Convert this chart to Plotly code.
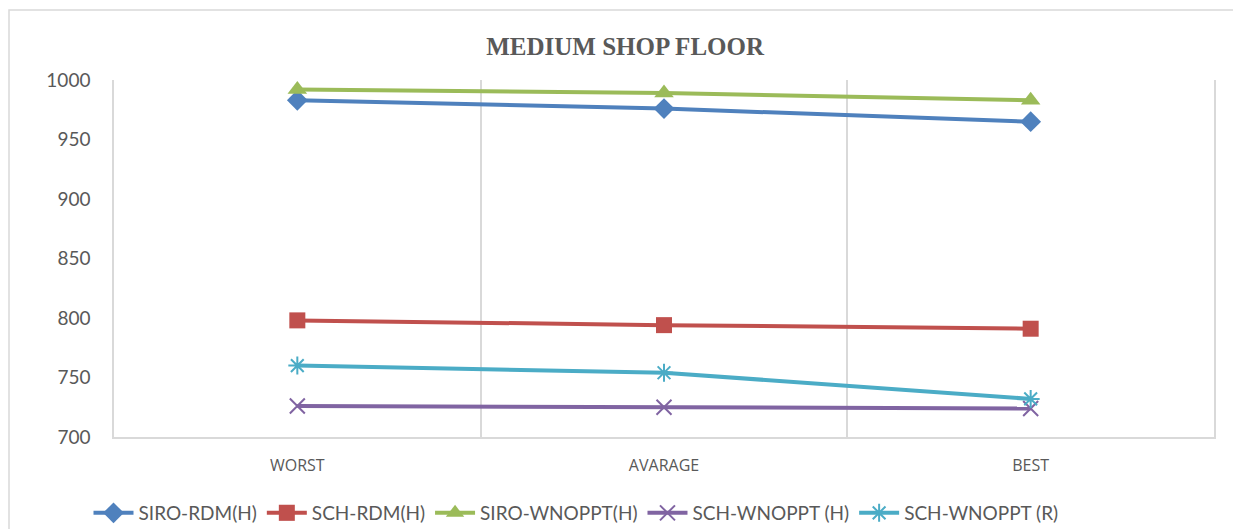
import plotly.graph_objects as go

categories = ["WORST", "AVARAGE", "BEST"]
siro_rdm_h = [983, 976, 965]
sch_rdm_h = [798, 794, 791]
siro_wnoppt_h = [992, 989, 983]
sch_wnoppt_h = [726, 725, 724]
sch_wnoppt_r = [760, 754, 732]

series = [
    ("SIRO-RDM(H)", siro_rdm_h, "#4F81BD", "diamond", 16, 0),
    ("SCH-RDM(H)", sch_rdm_h, "#C0504D", "square", 16, 0),
    ("SIRO-WNOPPT(H)", siro_wnoppt_h, "#9BBB59", "triangle-up", 17, 0),
    ("SCH-WNOPPT (H)", sch_wnoppt_h, "#8064A2", "x-thin-open", 15, 2),
    ("SCH-WNOPPT (R)", sch_wnoppt_r, "#4BACC6", "asterisk-open", 15, 2),
]

x_pos = list(range(len(categories)))

fig = go.Figure()
for name, vals, color, sym, size, lw in series:
    marker = dict(symbol=sym, size=size, color=color)
    if lw:
        marker["line"] = dict(color=color, width=lw)
    fig.add_trace(go.Scatter(
        x=x_pos, y=vals, name=name, mode="lines+markers",
        line=dict(color=color, width=4),
        marker=marker,
    ))

grid_color = "#D9D9D9"
text_color = "#595959"

# outer chart frame
fig.add_shape(type="rect", xref="paper", yref="paper",
              x0=(9 - 114) / 1100, x1=(1245 - 114) / 1100,
              y0=-0.3, y1=(437 - 10) / 357,
              line=dict(color=grid_color, width=1.5), fillcolor="rgba(0,0,0,0)",
              layer="below")

fig.update_layout(
    width=1233, height=529,
    margin=dict(l=114, r=19, t=80, b=92),
    paper_bgcolor="white", plot_bgcolor="white",
    title=dict(text="<b>MEDIUM SHOP FLOOR</b>", x=0.507, xanchor="center",
               y=1 - 46 / 529, yanchor="middle",
               font=dict(family="Liberation Serif", size=25, color=text_color)),
    xaxis=dict(
        range=[-0.5, 2.5], tickvals=x_pos, ticktext=categories,
        showgrid=False, zeroline=False, automargin=False,
        showline=True, linecolor=grid_color, linewidth=1.5, mirror=False,
        ticks="", ticklabelstandoff=13,
        tickfont=dict(family="Open Sans", size=16, color=text_color),
        minor=dict(tickvals=[-0.5, 0.5, 1.5, 2.5], showgrid=True,
                   gridcolor=grid_color, gridwidth=1.5, ticks=""),
    ),
    yaxis=dict(
        range=[700, 1000], dtick=50, showgrid=False, zeroline=False,
        automargin=False,
        showline=True, linecolor=grid_color, linewidth=1.5, mirror=True,
        ticks="", ticklabelstandoff=18,
        tickfont=dict(family="Lato", size=19, color=text_color),
    ),
    legend=dict(orientation="h", x=0.42, xanchor="center",
                yref="container", y=1 - 513 / 529, yanchor="middle",
                font=dict(family="Lato", size=19, color=text_color),
                itemwidth=40, traceorder="normal"),
    showlegend=True,
)

fig.write_html("out.html")
